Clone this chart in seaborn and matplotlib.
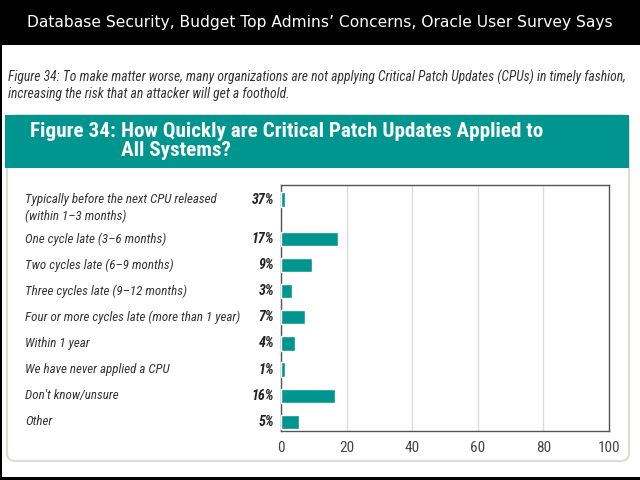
import numpy as np
import pandas as pd
import seaborn as sns
import matplotlib.pyplot as plt
from matplotlib.patches import Rectangle, FancyBboxPatch
from matplotlib.transforms import blended_transform_factory, offset_copy

# survey answers, as printed and as drawn
answers = [
    "Typically before the next CPU released\n(within 1\u20133 months)",
    "One cycle late (3\u20136 months)",
    "Two cycles late (6\u20139 months)",
    "Three cycles late (9\u201312 months)",
    "Four or more cycles late (more than 1 year)",
    "Within 1 year",
    "We have never applied a CPU",
    "Don't know/unsure",
    "Other",
]
pct_labels = [37, 17, 9, 3, 7, 4, 1, 16, 5]
bar_values = [1.2, 17.4, 9.3, 3.4, 7.3, 4.3, 1.2, 16.4, 5.5]
xticks = [0, 20, 40, 60, 80, 100]

header = "Database Security, Budget Top Admins\u2019 Concerns, Oracle User Survey Says"
caption = ("Figure 34: To make matter worse, many organizations are not applying Critical Patch Updates (CPUs) in timely fashion,\n"
           "increasing the risk that an attacker will get a foothold.")
banner_num = "Figure 34:"
banner_title = "How Quickly are Critical Patch Updates Applied to\nAll Systems?"

teal = "#00968f"
narrow = ["Liberation Sans Narrow", "Roboto Condensed", "Liberation Sans", "DejaVu Sans"]

sns.set_style("white")
plt.rcParams["font.family"] = narrow

# first row sits a half row higher than the rest
row_pos = np.r_[0, np.arange(1, len(answers)) + 0.5]
df = pd.DataFrame({"pos": row_pos, "value": bar_values})

fig = plt.figure(figsize=(6.4, 4.8), dpi=100)
W, H = 640, 480


def fx(x):
    return x / W


def fy(y):
    return 1 - y / H


# page decoration
fig.patches.append(Rectangle((0, fy(45)), 1, 45 / H, transform=fig.transFigure,
                             facecolor="black", edgecolor="none", zorder=0))
fig.patches.append(Rectangle((0, 0), fx(2), 1, transform=fig.transFigure,
                             facecolor="black", edgecolor="none", zorder=0))
fig.patches.append(Rectangle((0, 0), 1, 3 / H, transform=fig.transFigure,
                             facecolor="black", edgecolor="none", zorder=0))
fig.patches.append(FancyBboxPatch((fx(7), fy(461)), fx(622), 346 / H,
                                  boxstyle="round,pad=0,rounding_size=0.015",
                                  transform=fig.transFigure, facecolor="white",
                                  edgecolor="#dedcd4", lw=1.5, zorder=0))
fig.patches.append(Rectangle((fx(5), fy(168)), fx(624), 53 / H, transform=fig.transFigure,
                             facecolor=teal, edgecolor="none", zorder=1))

fig.text(0.5, fy(23), header, color="white", fontsize=11.2, ha="center", va="center",
         family=["DejaVu Sans"])
fig.text(fx(8), fy(70), caption, color="#333333", fontsize=9.8, style="italic",
         ha="left", va="top", linespacing=1.15)
fig.text(fx(30), fy(122), banner_num, color="white", fontsize=15.2, weight="bold",
         ha="left", va="top")
fig.text(fx(121), fy(122), banner_title, color="white", fontsize=15.2, weight="bold",
         ha="left", va="top", linespacing=1.0)

ax = fig.add_axes([fx(281), fy(431), fx(609 - 281), (431 - 185) / H])
ax.set_zorder(3)
sns.barplot(data=df, x="value", y="pos", orient="h", native_scale=True,
            color=teal, saturation=1, width=0.55, ax=ax, zorder=3)

ax.set_xlim(0, 100)
ax.set_ylim(8.85, -0.56)
ax.set_xticks(xticks)
ax.set_xticklabels([str(t) for t in xticks], fontsize=11, color="#444444")
ax.set_yticks([])
ax.set_xlabel("")
ax.set_ylabel("")
ax.tick_params(axis="x", length=0, pad=7)
ax.grid(axis="x", color="#dcdcdc", lw=1, zorder=0)
for s in ax.spines.values():
    s.set_color("#555555")
    s.set_linewidth(1)

trans = blended_transform_factory(fig.transFigure, ax.transData)
for p, ans, pct in zip(row_pos, answers, pct_labels):
    for i, line in enumerate(ans.split("\n")):
        t = offset_copy(trans, fig=fig, y=-17 * i, units="dots")
        ax.text(fx(25), p, line, transform=t, fontsize=9.4, style="italic",
                color="#333333", ha="left", va="center")
    ax.text(fx(274), p, f"{pct}%", transform=trans, fontsize=10.2, style="italic",
            weight="bold", color="#222222", ha="right", va="center")

fig.savefig("out.png", dpi=100)
